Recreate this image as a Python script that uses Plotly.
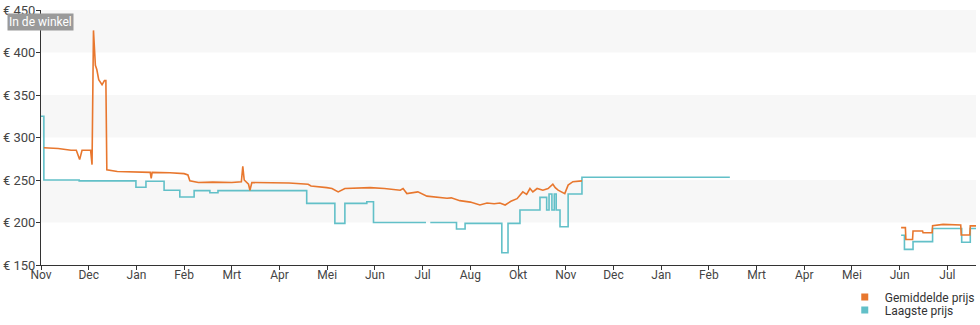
import plotly.graph_objects as go

# Month positions (0 = first "Nov" tick), one tick per month label
tick_pos = list(range(20))
tick_labels = ["Nov", "Dec", "Jan", "Feb", "Mrt", "Apr", "Mei", "Jun", "Jul", "Aug",
               "Okt", "Nov", "Dec", "Jan", "Feb", "Mrt", "Apr", "Mei", "Jun", "Jul"]

# Gemiddelde prijs (average price)
avg_x = [0.06, 0.36, 0.63, 0.74, 0.81, 0.86, 1.04, 1.07, 1.10, 1.14, 1.17, 1.21, 1.28, 1.33,
         1.36, 1.38, 1.6, 2.0, 2.29, 2.31, 2.33, 2.7, 3.0, 3.08, 3.12, 3.3, 3.6, 4.0, 4.2,
         4.23, 4.26, 4.35, 4.38, 4.42, 4.8, 5.2, 5.6, 5.66, 5.99, 6.1, 6.23, 6.37, 6.9, 7.2,
         7.53, 7.59, 7.67, 7.9, 8.09, 8.3, 8.51, 8.6, 8.78, 9.0, 9.2, 9.35, 9.5, 9.62, 9.73,
         9.85, 9.98, 10.1, 10.18, 10.25, 10.31, 10.4, 10.45, 10.52, 10.63, 10.73, 10.78, 10.84,
         10.98, 11.05, 11.15, 11.34, 11.35,
         18.03, 18.12, 18.13, 18.27, 18.28, 18.48, 18.49, 18.68, 18.69, 18.91, 19.28, 19.29,
         19.47, 19.48, 19.6]
avg_y = [288, 287, 285, 285, 274, 285, 285, 268, 426, 385, 380, 368, 362, 367,
         367, 262, 260, 259.5, 259, 252, 259, 258.5, 257.5, 256, 249, 247, 247.5, 247, 248,
         266, 250, 245, 238, 247, 247, 246.5, 245, 243, 241, 240, 236, 240, 241, 240,
         238, 240, 234, 236, 231, 230, 228.5, 229, 225.7, 224, 220.6, 223, 222, 223, 220.6,
         225, 228, 236, 233, 240, 236, 240, 239, 238, 240, 245, 241, 238,
         234, 244, 248, 249, None,
         194, 194, 180, 180, 190, 190, 188, 188, 196.3, 197.8, 197, 185.3,
         185.3, 196, 196]

# Laagste prijs (lowest price), step-wise
low_x = [0, 0.06, 0.8, 1.99, 2.20, 2.58, 2.91, 3.21, 3.54, 3.71, 5.57, 6.16, 6.37, 6.83,
         6.97, 8.07, 8.08, 8.16, 8.71, 8.89, 9.66, 9.79, 10.04, 10.46, 10.60, 10.65, 10.71,
         10.76, 10.80, 10.88, 11.05, 11.34, 14.44, 14.45,
         18.03, 18.10, 18.28, 18.69, 19.30, 19.48, 19.60]
low_y = [325, 250, 249, 241.4, 248.6, 238, 230, 237.5, 235, 237.5, 222.5, 199, 222.5, 224.5,
         200, 200, None, 200, 192.4, 199, 164.5, 199, 214.7, 229.6, 214.7, 233.5, 214.7,
         233.5, 214.7, 195, 233.5, 253.2, 253.2, None,
         185, 168.4, 177.5, 193, 176.7, 193, 193]

y_ticks = [150, 200, 250, 300, 350, 400, 450]
y_labels = ["€ " + str(v) for v in y_ticks]
bands = [(200, 250), (300, 350), (400, 450)]

ORANGE = "#e8772e"
TEAL = "#62c0c8"
FONT = "Roboto"

fig = go.Figure()
fig.add_trace(go.Scatter(x=low_x, y=low_y, mode="lines", line=dict(color=TEAL, width=1.6, shape="hv"),
                         connectgaps=False, showlegend=False, hoverinfo="skip"))
fig.add_trace(go.Scatter(x=avg_x, y=avg_y, mode="lines", line=dict(color=ORANGE, width=1.6),
                         connectgaps=False, showlegend=False, hoverinfo="skip"))
# legend entries with square symbols
fig.add_trace(go.Scatter(x=[None], y=[None], mode="markers", name="Gemiddelde prijs",
                         marker=dict(symbol="square", size=7, color=ORANGE), legend="legend"))
fig.add_trace(go.Scatter(x=[None], y=[None], mode="markers", name="Laagste prijs",
                         marker=dict(symbol="square", size=7, color=TEAL), legend="legend2"))

shapes = []
for lo, hi in bands:
    shapes.append(dict(type="rect", xref="paper", yref="y", x0=0, x1=1, y0=lo, y1=hi,
                       fillcolor="#f7f7f7", line=dict(width=0), layer="below"))

legend_common = dict(xref="container", yref="container", xanchor="left", yanchor="middle",
                     font=dict(size=12, color="#333333"), itemwidth=30,
                     bgcolor="rgba(0,0,0,0)", borderwidth=0)

fig.update_layout(
    width=980, height=325,
    margin=dict(l=41, r=4, t=10, b=60, autoexpand=False),
    paper_bgcolor="white", plot_bgcolor="white",
    font=dict(family=FONT, size=12, color="#333333"),
    shapes=shapes,
    xaxis=dict(range=[0, 19.6], tickmode="array", tickvals=tick_pos, ticktext=tick_labels,
               showgrid=False, zeroline=False, showline=True, linecolor="#333333", linewidth=1,
               ticks="outside", ticklen=4, tickcolor="#333333", ticklabelstandoff=-5,
               tickfont=dict(size=12, color="#444444")),
    yaxis=dict(range=[150, 450], tickmode="array", tickvals=y_ticks, ticktext=y_labels,
               showgrid=False, zeroline=False, showline=True, linecolor="#333333", linewidth=1,
               ticks="outside", ticklen=4, tickcolor="#333333", ticklabelstandoff=-2,
               tickfont=dict(size=13, color="#444444")),
    legend=dict(x=0.862, y=1 - 297 / 325, **legend_common),
    legend2=dict(x=0.862, y=1 - 310 / 325, **legend_common),
    annotations=[dict(text="In de winkel", xref="paper", yref="paper", x=-0.0364, y=0.988,
                      xanchor="left", yanchor="top", showarrow=False,
                      font=dict(size=12, color="white", family=FONT),
                      bgcolor="#9a9a9a", borderpad=1)],
)

fig.write_html("out.html")
